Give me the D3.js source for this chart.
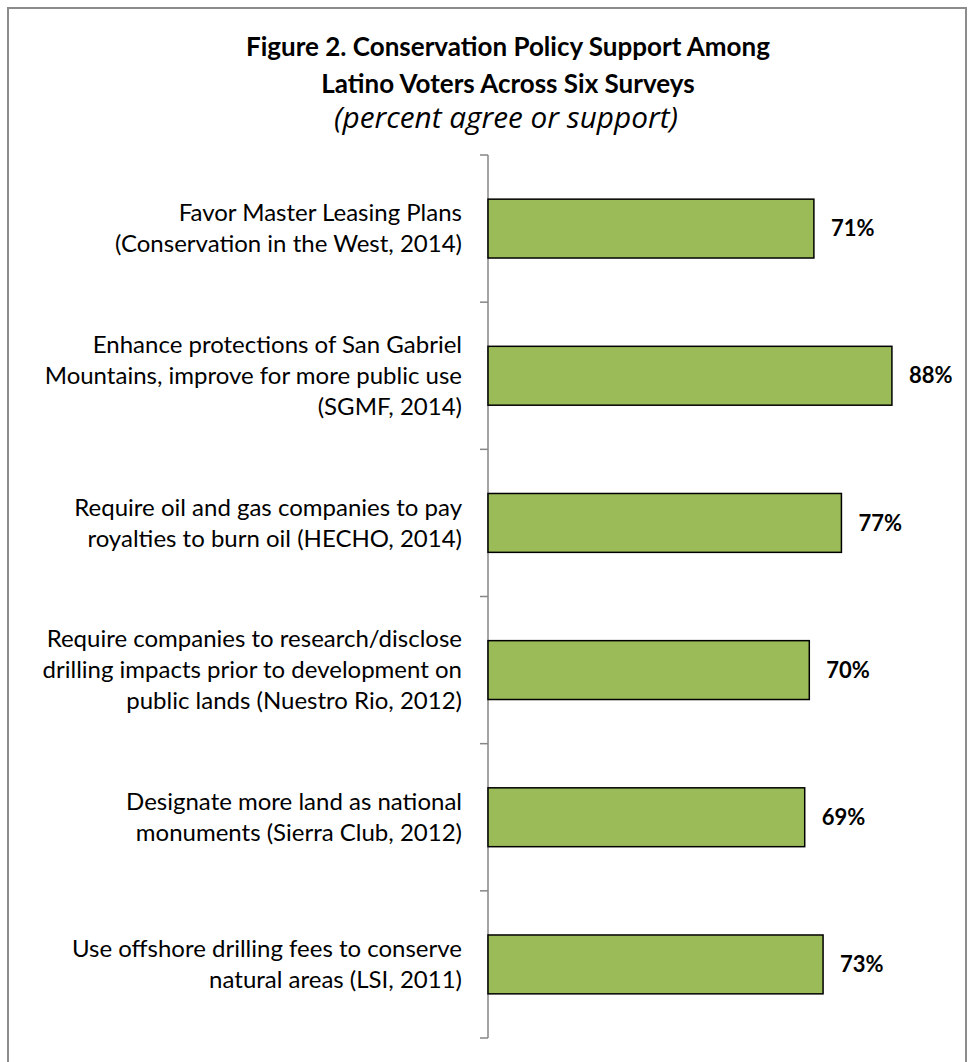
<!DOCTYPE html>
<html>
<head>
<meta charset="utf-8">
<script src="https://cdn.jsdelivr.net/npm/d3@7"></script>
<style>
html,body{margin:0;padding:0;background:#fff;}
svg{display:block;}
</style>
</head>
<body>
<svg id="chart" width="972" height="1062"></svg>
<script>
const titleLines = ["Figure 2. Conservation Policy Support Among", "Latino Voters Across Six Surveys"];
const subtitle = "(percent agree or support)";
const categories = [
  ["Favor Master Leasing Plans", "(Conservation in the West, 2014)"],
  ["Enhance protections of San Gabriel", "Mountains, improve for more public use", "(SGMF, 2014)"],
  ["Require oil and gas companies to pay", "royalties to burn oil (HECHO, 2014)"],
  ["Require companies to research/disclose", "drilling impacts prior to development on", "public lands (Nuestro Rio, 2012)"],
  ["Designate more land as national", "monuments (Sierra Club, 2012)"],
  ["Use offshore drilling fees to conserve", "natural areas (LSI, 2011)"]
];
const values = [71, 88, 77, 70, 69, 73];
const valueLabels = ["71%", "88%", "77%", "70%", "69%", "73%"];

const font = "Lato, 'Open Sans', sans-serif";
const svg = d3.select("#chart");

// outer border
svg.append("rect").attr("x", 8).attr("y", 8).attr("width", 958).attr("height", 1070)
  .attr("fill", "none").attr("stroke", "#8c8c8c").attr("stroke-width", 2);

// titles
svg.selectAll("text.title").data(titleLines).join("text")
  .attr("class", "title")
  .attr("x", 508).attr("y", (d, i) => 56 + i * 37)
  .attr("text-anchor", "middle")
  .attr("font-family", font).attr("font-weight", "bold").attr("font-size", 26)
  .attr("fill", "#000").text(d => d);
const sub = svg.append("text").attr("x", 506).attr("y", 128)
  .attr("text-anchor", "middle")
  .attr("font-family", "'Open Sans', sans-serif").attr("font-style", "italic").attr("font-size", 24)
  .attr("fill", "#000").text(subtitle);
// fit subtitle width to the reference span
const w = sub.node().getComputedTextLength();
sub.attr("font-size", 24 * 344 / w);

const x = d3.scaleLinear().domain([0, 100]).range([488, 947]);
const y = d3.scaleBand().domain(d3.range(categories.length)).range([155, 1038]).paddingInner(0.6).paddingOuter(0.3);
const yBound = d3.scaleLinear().domain([0, categories.length]).range([155, 1038]);

// axis line and ticks
const axisG = svg.append("g");
axisG.append("line").attr("x1", 488).attr("x2", 488).attr("y1", 155).attr("y2", 1038)
  .attr("stroke", "#868686").attr("stroke-width", 1.5);
axisG.selectAll("line.tick").data(d3.range(categories.length + 1)).join("line")
  .attr("class", "tick")
  .attr("x1", 480).attr("x2", 488)
  .attr("y1", d => yBound(d)).attr("y2", d => yBound(d))
  .attr("stroke", "#868686").attr("stroke-width", 1.5);

// bars
svg.selectAll("rect.bar").data(values).join("rect")
  .attr("class", "bar")
  .attr("x", x(0)).attr("y", (d, i) => y(i))
  .attr("width", d => x(d) - x(0)).attr("height", y.bandwidth())
  .attr("fill", "#9BBB59").attr("stroke", "#000").attr("stroke-width", 1.5);

// value labels
svg.selectAll("text.val").data(values).join("text")
  .attr("class", "val")
  .attr("x", d => x(d) + 17).attr("y", (d, i) => y(i) + y.bandwidth() / 2)
  .attr("dy", "0.35em")
  .attr("font-family", font).attr("font-weight", "bold").attr("font-size", 22)
  .attr("fill", "#000").text((d, i) => valueLabels[i]);

// category labels
const lineH = 31;
const cat = svg.selectAll("g.cat").data(categories).join("g").attr("class", "cat");
cat.each(function(lines, i) {
  const cy = y(i) + y.bandwidth() / 2;
  const n = lines.length;
  d3.select(this).selectAll("text").data(lines).join("text")
    .attr("x", 462)
    .attr("y", (d, j) => cy + (j - (n - 1) / 2) * lineH)
    .attr("dy", "0.35em")
    .attr("text-anchor", "end")
    .attr("font-family", font).attr("font-size", 24)
    .attr("fill", "#000").text(d => d);
});
</script>
</body>
</html>
